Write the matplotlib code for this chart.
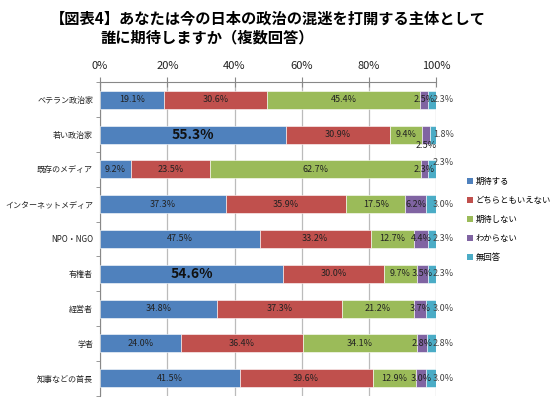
import numpy as np
import matplotlib.pyplot as plt
from matplotlib.patches import Patch
from matplotlib.ticker import FixedLocator, FuncFormatter

plt.rcParams['font.family'] = ['Noto Sans CJK JP', 'DejaVu Sans']

# --- data ---
categories = ['ベテラン政治家', '若い政治家', '既存のメディア', 'インターネットメディア',
              'NPO・NGO', '有権者', '経営者', '学者', '知事などの首長']
series = ['期待する', 'どちらともいえない', '期待しない', 'わからない', '無回答']
expect = [19.1, 55.3, 9.2, 37.3, 47.5, 54.6, 34.8, 24.0, 41.5]
neutral = [30.6, 30.9, 23.5, 35.9, 33.2, 30.0, 37.3, 36.4, 39.6]
no_expect = [45.4, 9.4, 62.7, 17.5, 12.7, 9.7, 21.2, 34.1, 12.9]
unknown = [2.5, 2.5, 2.3, 6.2, 4.4, 3.5, 3.7, 2.8, 3.0]
no_answer = [2.3, 1.8, 2.3, 3.0, 2.3, 2.3, 3.0, 2.8, 3.0]
colors = ['#4F81BD', '#C0504D', '#9BBB59', '#8064A2', '#4BACC6']

vals = np.array([expect, neutral, no_expect, unknown, no_answer])
pct = vals / vals.sum(axis=0) * 100  # 100% stacked like Excel

fig = plt.figure(figsize=(5.5, 3.98), dpi=100)
ax = fig.add_axes([0.182, 0.006, 0.611, 0.787])

y = np.arange(len(categories))
left = np.zeros(len(categories))
for k in range(5):
    ax.barh(y, pct[k], left=left, height=0.52, color=colors[k],
            edgecolor='white', linewidth=0.4, zorder=3)
    for i in range(len(categories)):
        txt = f"{vals[k, i]:.1f}%"
        cx = left[i] + pct[k, i] / 2
        if k == 0 and vals[k, i] > 54:
            ax.text(cx, y[i], txt, ha='center', va='center', fontsize=10,
                    fontweight='bold', color='#111111', zorder=4)
        elif k < 4:
            dy = 0.0
            if k == 3 and categories[i] == '若い政治家':
                dy = 0.3
            ax.text(cx, y[i] + dy, txt, ha='center', va='center', fontsize=6.5,
                    color='#222222', zorder=4)
        else:
            dy = -0.2 if categories[i] == '既存のメディア' else 0.0
            ax.text(99.0, y[i] + dy, txt, ha='left', va='center', fontsize=6.5,
                    color='#444444', zorder=4)
    left += pct[k]

ax.set_xlim(0, 100)
ax.set_ylim(len(categories) - 0.5, -0.5)
ax.xaxis.tick_top()
ax.set_xticks(np.arange(0, 101, 20))
ax.xaxis.set_major_formatter(FuncFormatter(lambda v, p: f"{int(v)}%"))
ax.tick_params(axis='x', direction='inout', length=7, color='#888888',
               labelsize=8, pad=5, labelcolor='#222222')
ax.grid(axis='x', color='#BBBBBB', linewidth=0.9, zorder=0)

ax.set_yticks(y)
ax.set_yticklabels(categories, fontsize=5.8)
ax.tick_params(axis='y', which='major', length=0, pad=5, labelcolor='#222222')
ax.yaxis.set_minor_locator(FixedLocator(np.arange(-0.5, len(categories), 1.0)))
ax.tick_params(axis='y', which='minor', length=3, color='#888888')

for s in ['right', 'bottom']:
    ax.spines[s].set_visible(False)
ax.spines['left'].set_color('#888888')
ax.spines['top'].set_color('#888888')

handles = [Patch(facecolor=c, edgecolor='none') for c in colors]
fig.legend(handles, series, loc='upper left', bbox_to_anchor=(0.835, 0.575),
           frameon=False, fontsize=6, handlelength=0.8, handleheight=0.8,
           handletextpad=0.3, labelspacing=1.2)

fig.text(0.09, 0.955, '【図表4】あなたは今の日本の政治の混迷を打開する主体として',
         fontsize=11, fontweight='bold', ha='left', va='center')
fig.text(0.182, 0.905, '誰に期待しますか（複数回答）',
         fontsize=11, fontweight='bold', ha='left', va='center')

fig.savefig('out.png', dpi=100)
